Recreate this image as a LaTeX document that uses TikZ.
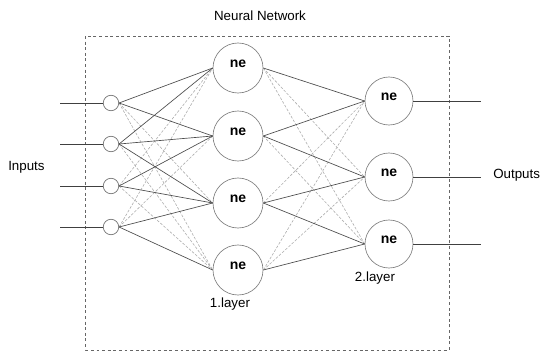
\documentclass[tikz,border=0pt]{standalone}
\usepackage{fontspec}
\setmainfont{Liberation Sans}
\begin{document}
\begin{tikzpicture}[x=0.75pt,y=-0.75pt,
  inputcell/.style={circle,draw=black!55,line width=0.5pt,fill=white,minimum size=11.6pt,inner sep=0pt},
  neuron/.style={circle,draw=black!50,line width=0.5pt,fill=white,inner sep=0pt,
    font=\bfseries\fontsize{10.5}{12}\selectfont,text height=4.5pt,text depth=5pt},
  hidden/.style={neuron,minimum size=37.5pt},
  outcell/.style={neuron,minimum size=36pt},
  strong/.style={draw=black!70,line width=0.5pt},
  faint/.style={draw=black!32,line width=0.45pt,dash pattern=on 2pt off 1.2pt},
  wire/.style={draw=black!75,line width=0.55pt},
  caption/.style={font=\fontsize{10}{12}\selectfont,inner sep=0pt,anchor=base}]
\useasboundingbox (0,0) rectangle (542,353);

% dashed frame of the network
\draw[black!60,line width=0.5pt,dash pattern=on 2.2pt off 2pt] (85.7,36) rectangle (449,350);

\node[caption] (title) at (260,21) {Neural Network};
\node[caption,anchor=base west] (inlabel) at (8,170) {Inputs};
\node[caption,anchor=base west] (outlabel) at (493,178) {Outputs};

% input cells
\foreach \i/\y in {1/103,2/144,3/186,4/227}{
  \node[inputcell] (x\i) at (111,\y) {};
  \coordinate (s\i) at (60,\y);
}
% first layer
\foreach \i/\y in {1/68,2/136,3/203,4/270}
  \node[hidden] (h\i) at (238,\y) {ne};
% second layer
\foreach \i/\y in {1/101,2/177,3/244}{
  \node[outcell] (o\i) at (389,\y) {ne};
  \coordinate (t\i) at (481,\y);
}

\node[caption] (lay1) at (230,307) {1.layer};
\node[caption] (lay2) at (375,281) {2.layer};

% input -> first layer connections
\foreach \a/\b in {1/3,1/4,2/4,3/1,3/4,4/1,4/2}
  \draw[faint] (x\a.east) -- (h\b.west);
\foreach \a/\b in {1/1,1/2,2/1,2/2,2/3,3/2,3/3,4/3,4/4}
  \draw[strong] (x\a.east) -- (h\b.west);

% first layer -> second layer connections
\foreach \a/\b in {1/2,1/3,2/3,3/1,4/1,4/2}
  \draw[faint] (h\a.east) -- (o\b.west);
\foreach \a/\b in {1/1,2/1,2/2,3/2,3/3,4/3}
  \draw[strong] (h\a.east) -- (o\b.west);

% external signal lines
\foreach \i in {1,2,3,4}
  \draw[wire] (s\i) -- (x\i.west);
\foreach \i in {1,2,3}
  \draw[wire] (o\i.east) -- (t\i);
\end{tikzpicture}
\end{document}
